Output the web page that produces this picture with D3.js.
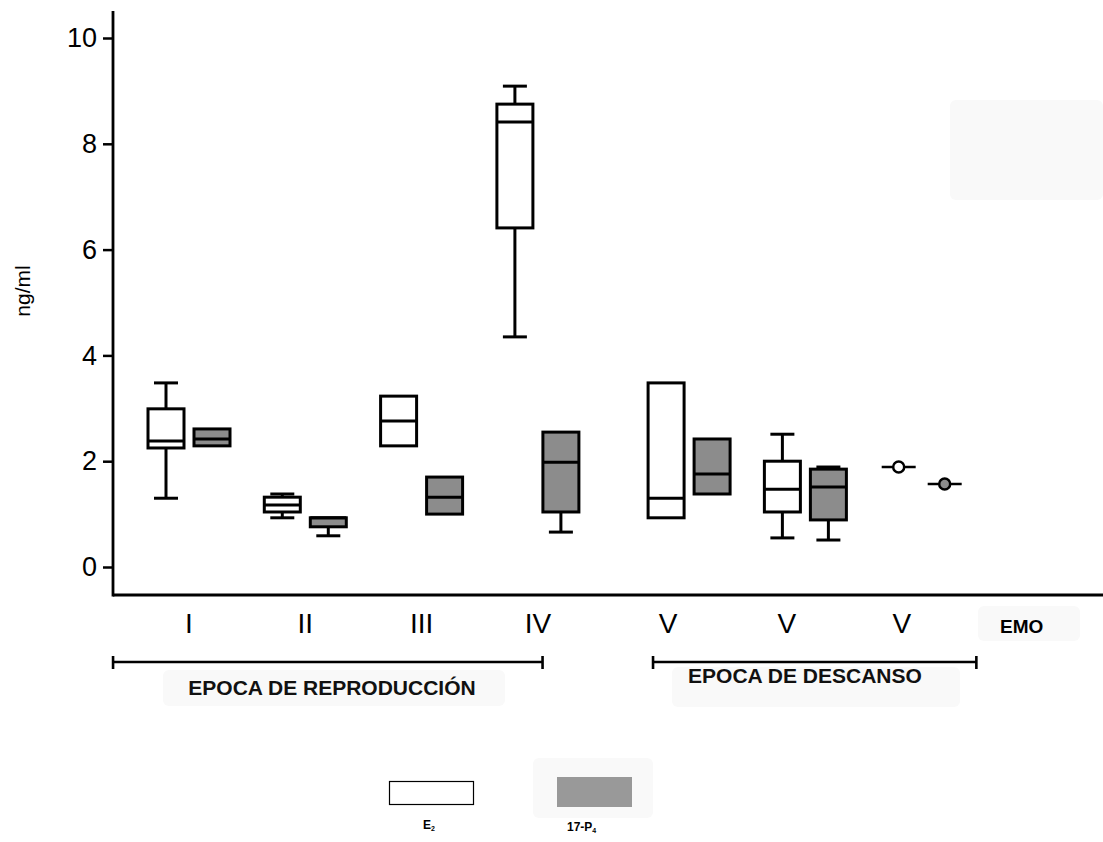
<!DOCTYPE html>
<html><head><meta charset="utf-8">
<script src="https://cdn.jsdelivr.net/npm/d3@7"></script>
<style>html,body{margin:0;padding:0;background:#fff;}svg{display:block;}</style>
</head><body>
<script>
// ---- data ----
const groups = ["I","II","III","IV","V","V","V"];
const boxSlots = [0,1,2,3,4.3,5.3,6.3];
const axisLabels = ["I","II","III","IV","V","V","V","EMO"];
const labelSlots = [0,1,2,3,4.12,5.14,6.13,7.16];
const yTicks = [0,2,4,6,8,10];

// E2 (white boxes)
const e2Low  = [1.30, 0.93, null, 4.35, null, 0.55, 1.89];
const e2Q1   = [2.25, 1.04, 2.29, 6.41, 0.93, 1.04, 1.89];
const e2Med  = [2.38, 1.17, 2.76, 8.41, 1.30, 1.47, 1.89];
const e2Q3   = [2.99, 1.32, 3.23, 8.75, 3.48, 2.00, 1.89];
const e2High = [3.48, 1.38, null, 9.09, null, 2.51, 1.89];

// 17-P4 (grey boxes)
const p4Low  = [null, 0.59, null, 0.66, null, 0.51, 1.57];
const p4Q1   = [2.29, 0.76, 1.00, 1.04, 1.38, 0.89, 1.57];
const p4Med  = [2.42, 0.93, 1.32, 1.98, 1.76, 1.51, 1.57];
const p4Q3   = [2.61, 0.93, 1.70, 2.55, 2.42, 1.85, 1.57];
const p4High = [null, null, null, null, null, 1.89, 1.57];

const periods = ["EPOCA DE REPRODUCCIÓN", "EPOCA DE DESCANSO"];
const periodStart = [-0.653, 3.99];
const periodEnd = [3.04, 6.77];

// ---- layout ----
const W = 1103, H = 842;
const FONT = "'Liberation Sans', Arial, Helvetica, sans-serif";
const GREY = "#8c8c8c";
const svg = d3.select("body").append("svg").attr("width", W).attr("height", H);

const y = d3.scaleLinear().domain([0, 10]).range([567, 38]);
const x = d3.scaleLinear().domain([0, 1]).range([189, 305.3]);
const axisX = 113, axisBottom = 595, axisTop = 11;

// faint scan patches
const patches = [[163,670,342,36],[672,667,288,40],[978,606,102,35],[950,100,153,100],[533,758,120,60]];
svg.selectAll("rect.patch").data(patches).join("rect").attr("class","patch")
  .attr("x",d=>d[0]).attr("y",d=>d[1]).attr("width",d=>d[2]).attr("height",d=>d[3])
  .attr("rx",6).attr("fill","#f9f9f9");

// y axis
const yAxis = d3.axisLeft(y).tickValues(yTicks).tickSize(10).tickPadding(6).tickFormat(d3.format("d"));
const gy = svg.append("g").attr("transform", `translate(${axisX},0)`).call(yAxis);
gy.select(".domain").remove();
gy.selectAll(".tick line").attr("stroke","#000").attr("stroke-width",2.5);
gy.selectAll(".tick text").attr("font-family",FONT).attr("font-size",27).attr("fill","#000");
svg.append("line").attr("x1",axisX).attr("x2",axisX).attr("y1",axisTop).attr("y2",axisBottom+1.5)
  .attr("stroke","#000").attr("stroke-width",2.8);
svg.append("line").attr("x1",axisX).attr("x2",W).attr("y1",axisBottom).attr("y2",axisBottom)
  .attr("stroke","#000").attr("stroke-width",2.8);

svg.append("text").attr("transform","translate(30,291) rotate(-90)")
  .attr("text-anchor","middle").attr("font-family",FONT).attr("font-size",21).text("ng/ml");

// x labels
svg.selectAll("text.xl").data(axisLabels).join("text").attr("class","xl")
  .attr("x",(d,i)=>x(labelSlots[i])).attr("y",633)
  .attr("text-anchor","middle").attr("font-family",FONT)
  .attr("font-size",d=>d==="EMO"?19:28)
  .attr("font-weight",d=>d==="EMO"?"bold":"normal")
  .text(d=>d);

// period brackets
periods.forEach((p,i)=>{
  const x1 = x(periodStart[i]), x2 = x(periodEnd[i]), yy = 662;
  const g = svg.append("g").attr("stroke","#000").attr("stroke-width",2.6);
  g.append("line").attr("x1",x1).attr("x2",x2).attr("y1",yy).attr("y2",yy);
  g.append("line").attr("x1",x1).attr("x2",x1).attr("y1",yy-6).attr("y2",yy+7);
  g.append("line").attr("x1",x2).attr("x2",x2).attr("y1",yy-6).attr("y2",yy+7);
});
svg.append("text").attr("x",332).attr("y",695).attr("text-anchor","middle")
  .attr("font-family",FONT).attr("font-weight","bold").attr("font-size",21).attr("fill","#111").text(periods[0]);
svg.append("text").attr("x",805).attr("y",683).attr("text-anchor","middle")
  .attr("font-family",FONT).attr("font-weight","bold").attr("font-size",21).attr("fill","#111").text(periods[1]);

// boxes
const BW = 36, CAP = 24, OFF = 23;
function drawSeries(low,q1,med,q3,high,fill,dx){
  groups.forEach((gname,i)=>{
    const cx = x(boxSlots[i]) + dx;
    const g = svg.append("g").attr("stroke","#000").attr("stroke-width",3).attr("fill","none");
    if (q1[i] === q3[i]) {
      g.append("line").attr("x1",cx-BW/2+1).attr("x2",cx+BW/2-1).attr("y1",y(med[i])).attr("y2",y(med[i])).attr("stroke-width",2.5);
      g.append("circle").attr("cx",cx).attr("cy",y(med[i])).attr("r",5.5).attr("fill",fill).attr("stroke-width",2.5);
      return;
    }
    if (high[i] != null) {
      g.append("line").attr("x1",cx).attr("x2",cx).attr("y1",y(q3[i])).attr("y2",y(high[i]));
      g.append("line").attr("x1",cx-CAP/2).attr("x2",cx+CAP/2).attr("y1",y(high[i])).attr("y2",y(high[i]));
    }
    if (low[i] != null) {
      g.append("line").attr("x1",cx).attr("x2",cx).attr("y1",y(q1[i])).attr("y2",y(low[i]));
      g.append("line").attr("x1",cx-CAP/2).attr("x2",cx+CAP/2).attr("y1",y(low[i])).attr("y2",y(low[i]));
    }
    g.append("rect").attr("x",cx-BW/2).attr("width",BW)
      .attr("y",y(q3[i])).attr("height",y(q1[i])-y(q3[i])).attr("fill",fill);
    g.append("line").attr("x1",cx-BW/2).attr("x2",cx+BW/2).attr("y1",y(med[i])).attr("y2",y(med[i]));
  });
}
drawSeries(e2Low,e2Q1,e2Med,e2Q3,e2High,"#fff",-OFF);
drawSeries(p4Low,p4Q1,p4Med,p4Q3,p4High,GREY,OFF);

// legend
svg.append("rect").attr("x",389.5).attr("y",781.5).attr("width",84).attr("height",23)
  .attr("fill","#fff").attr("stroke","#000").attr("stroke-width",1.2);
svg.append("rect").attr("x",557).attr("y",777).attr("width",75).attr("height",30).attr("fill","#999");
const l1 = svg.append("text").attr("x",423).attr("y",829).attr("font-family",FONT).attr("font-weight","bold").attr("font-size",12);
l1.append("tspan").text("E");
l1.append("tspan").attr("font-size",7).attr("dy",2).text("2");
const l2 = svg.append("text").attr("x",567).attr("y",831).attr("font-family",FONT).attr("font-weight","bold").attr("font-size",12);
l2.append("tspan").text("17-P");
l2.append("tspan").attr("font-size",7).attr("dy",2).text("4");
</script>
</body></html>
